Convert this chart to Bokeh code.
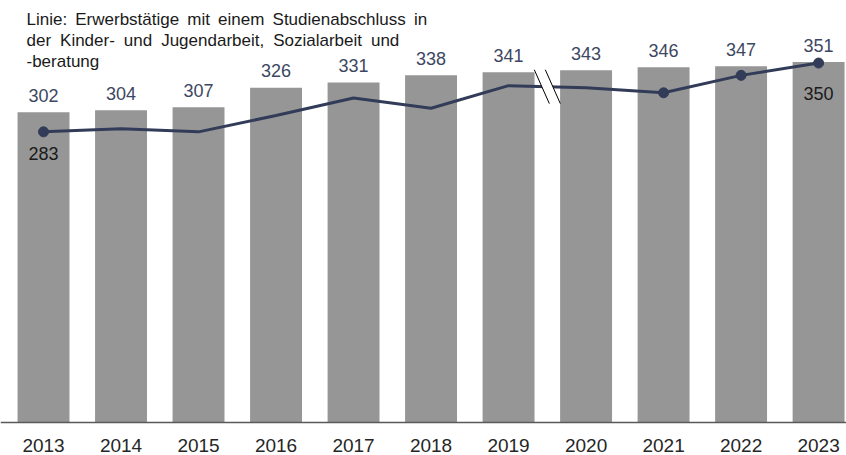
from bokeh.plotting import figure
from bokeh.models import Range1d, Label, ColumnDataSource, FixedTicker
from bokeh.core.properties import value
from bokeh.embed import file_html
from bokeh.resources import INLINE

# ---- data ----
years = [2013, 2014, 2015, 2016, 2017, 2018, 2019, 2020, 2021, 2022, 2023]
bar_values = [302, 304, 307, 326, 331, 338, 341, 343, 346, 347, 351]
line_values = [283, 286, 283, 299, 316, 306, 328, 326, 321, 338, 350]
marked_years = [2013, 2021, 2022, 2023]
line_labeled_years = [2013, 2023]
title_lines = [
    "Linie: Erwerbstätige mit einem Studienabschluss in",
    "der Kinder- und Jugendarbeit, Sozialarbeit und",
    "-beratung",
]
break_between = (2019, 2020)

BAR = "#969696"
LINE = "#323c58"
VAL = "#3d4762"
FONT = "Liberation Sans"

# justified-looking title: widen word gaps slightly
gap_fill = ["\u2009", "\u2005", ""]
title_render = [t.replace(" ", " " + g) if g else t for t, g in zip(title_lines, gap_fill)]

W, H = 846, 455
AXIS_PX = 422          # pixel row of the baseline
PX_PER_UNIT = 1.027
p = figure(width=W, height=H, output_backend="svg", toolbar_location=None,
           x_range=Range1d(2012.445, 2023.36),
           y_range=Range1d(-(H - AXIS_PX) / PX_PER_UNIT, AXIS_PX / PX_PER_UNIT),
           y_axis_location=None, min_border_left=0, min_border_right=0,
           min_border_top=0, min_border_bottom=0)
p.outline_line_color = None
p.grid.visible = False
p.background_fill_color = "white"
p.border_fill_color = "white"

src = ColumnDataSource(dict(x=years, top=bar_values, line=line_values,
                            lab=[str(v) for v in bar_values]))
p.vbar(x="x", top="top", width=0.67, source=src, fill_color=BAR, line_color=None)

# value labels above bars
p.text(x="x", y="top", text="lab", source=src, text_align="center",
       text_baseline="top", y_offset=-23.5, text_color=VAL,
       text_font_size="18px", text_font=value(FONT))

# line
p.line(x="x", y="line", source=src, line_color=LINE, line_width=3)

# break marker
bx = (break_between[0] + break_between[1]) / 2
i0 = years.index(break_between[0])
by = (line_values[i0] + line_values[i0 + 1]) / 2
hx, hy, gap = 0.097, 16.5, 0.142
xa, xb = bx - gap / 2, bx + gap / 2
p.patch([xa - hx, xb - hx, xb + hx, xa + hx], [by + hy, by + hy, by - hy, by - hy],
        fill_color="white", line_color=None)
p.segment(x0=[xa - hx, xb - hx], y0=[by + hy, by + hy],
          x1=[xa + hx, xb + hx], y1=[by - hy, by - hy],
          line_color="black", line_width=1)

mx = [y for y in marked_years]
my = [line_values[years.index(y)] for y in marked_years]
p.scatter(mx, my, size=10, fill_color=LINE, line_color=LINE)

# line value labels (first & last)
offs = {2013: 15, 2023: 24}
for yr in line_labeled_years:
    v = line_values[years.index(yr)]
    p.add_layout(Label(x=yr, y=v, text=str(v), text_align="center",
                       text_baseline="top", y_offset=-offs[yr],
                       text_color="#1a1a1a", text_font_size="18px",
                       text_font=FONT))

# title
for k, t in enumerate(title_render):
    p.add_layout(Label(x=26, y=H - 9.8 - 21 * k, x_units="screen",
                       y_units="screen", text=t, text_baseline="top",
                       text_color="#1a1a1a", text_font_size="17px",
                       text_font=FONT))

ax = p.xaxis[0]
ax.fixed_location = 0
ax.ticker = FixedTicker(ticks=years)
ax.major_tick_line_color = None
ax.minor_tick_line_color = None
ax.major_tick_out = 0
ax.major_tick_in = 0
ax.axis_line_color = "#595959"
ax.axis_line_width = 1.5
ax.major_label_standoff = 16
ax.major_label_text_font = FONT
ax.major_label_text_font_size = "19px"
ax.major_label_text_color = "#262626"

open("out.html", "w").write(file_html(p, INLINE))
